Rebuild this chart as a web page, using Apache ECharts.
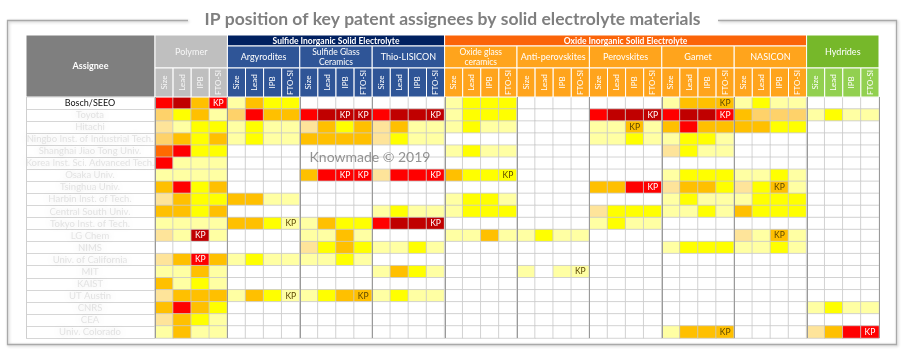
<!DOCTYPE html>
<html><head><meta charset="utf-8">
<script src="https://cdn.jsdelivr.net/npm/echarts@6.0.0/dist/echarts.min.js"></script>
<style>html,body{margin:0;padding:0;background:#fff}#c{width:905px;height:356px}</style>
</head><body><div id="c"></div>
<script>
// ---------------- DATA ----------------
const titleText = "IP position of key patent assignees by solid electrolyte materials";
const watermark = "Knowmade \u00A9 2019";
const assignees = ["Bosch/SEEO","Toyota","Hitachi","Ningbo Inst. of Industrial Tech.","Shanghai Jiao Tong Univ.",
  "Korea Inst. Sci. Advanced Tech.","Osaka Univ.","Tsinghua Univ.","Harbin Inst. of Tech.","Central South Univ.",
  "Tokyo Inst. of Tech.","LG Chem","NIMS","Univ. of California","MIT","KAIST","UT Austin","CNRS","CEA","Univ. Colorado"];
const subColumns = ["Size","Lead","IPB","FTO-SI"];
const families = ["Polymer","Argyrodites","Sulfide Glass\nCeramics","Thio-LISICON","Oxide glass\nceramics",
  "Anti-perovskites","Perovskites","Garnet","NASICON","Hydrides"];
const familyClass = ["polymer","sulfide","sulfide","sulfide","oxide","oxide","oxide","oxide","oxide","hydride"];
const classBands = [
  {name:"Sulfide Inorganic Solid Electrolyte", cls:"sulfide"},
  {name:"Oxide Inorganic Solid Electrolyte", cls:"oxide"}
];
// level: 0 none, 1 pale yellow, 2 pale tan, 3 yellow, 4 light orange, 5 orange, 6 dark orange, 7 red, 8 dark red
const levelColors = ["#ffffff","#ffffa3","#fee49a","#ffff00","#fed26a","#ffc000","#ff6a00","#ff0000","#c00000"];
const cellLevels = [
  [7,8,5,7, 1,5,3,3, 0,0,0,0, 0,0,0,0, 1,3,3,3, 0,0,0,0, 0,0,0,0, 1,5,5,5, 1,3,1,1, 0,0,0,0],
  [4,3,5,1, 4,7,5,5, 7,8,8,8, 7,8,8,8, 1,3,3,3, 0,0,0,0, 7,8,8,8, 7,8,8,7, 5,4,4,4, 1,3,1,1],
  [2,1,3,3, 1,3,1,1, 2,5,3,5, 2,5,1,1, 1,3,1,1, 0,0,0,0, 1,1,5,1, 5,7,5,5, 5,5,3,3, 0,0,0,0],
  [4,5,3,5, 1,3,1,1, 5,5,5,5, 2,3,1,1, 0,0,0,0, 0,0,0,0, 1,1,3,1, 1,3,3,1, 0,0,0,0, 0,0,0,0],
  [6,7,3,3, 0,0,0,0, 0,0,0,0, 0,0,0,0, 1,3,1,1, 0,0,0,0, 0,0,0,0, 2,3,1,1, 0,0,0,0, 0,0,0,0],
  [7,1,1,1, 0,0,0,0, 0,0,0,0, 0,0,0,0, 0,0,0,0, 0,0,0,0, 0,0,0,0, 0,0,0,0, 0,0,0,0, 0,0,0,0],
  [1,1,1,1, 0,0,0,0, 5,7,7,7, 2,7,7,7, 5,3,3,3, 0,0,0,0, 0,0,0,0, 1,3,3,3, 1,1,3,1, 0,0,0,0],
  [5,7,3,5, 0,0,0,0, 0,0,0,0, 0,0,0,0, 0,0,0,0, 0,0,0,0, 5,5,7,7, 2,5,5,3, 2,3,5,1, 0,0,0,0],
  [2,5,3,3, 5,5,1,1, 0,0,0,0, 0,0,0,0, 1,3,3,1, 0,0,0,0, 0,0,0,0, 1,3,1,1, 1,3,3,3, 0,0,0,0],
  [5,5,3,5, 0,0,0,0, 0,0,0,0, 1,3,1,1, 1,3,3,3, 0,0,0,0, 2,3,3,3, 1,1,3,1, 5,3,3,3, 0,0,0,0],
  [1,1,1,1, 5,5,3,1, 1,5,3,3, 7,8,8,8, 0,0,0,0, 0,0,0,0, 1,3,1,1, 0,0,0,0, 0,0,0,0, 0,0,0,0],
  [2,1,8,1, 0,0,0,0, 1,1,5,1, 0,0,0,0, 1,1,5,1, 1,3,1,1, 0,0,0,0, 0,0,0,0, 2,1,5,1, 0,0,0,0],
  [0,0,0,0, 0,0,0,0, 2,3,5,3, 1,1,3,1, 0,0,0,0, 0,0,0,0, 0,0,0,0, 1,3,3,3, 1,1,3,1, 0,0,0,0],
  [2,5,7,5, 1,3,1,1, 1,1,3,1, 0,0,0,0, 0,0,0,0, 0,0,0,0, 0,0,0,0, 0,0,0,0, 0,0,0,0, 0,0,0,0],
  [1,1,5,1, 0,0,0,0, 0,0,0,0, 1,5,3,1, 0,0,0,0, 1,0,1,1, 0,0,0,0, 0,0,0,0, 0,0,0,0, 0,0,0,0],
  [5,1,3,1, 0,0,0,0, 0,0,0,0, 0,0,0,0, 0,0,0,0, 0,0,0,0, 0,0,0,0, 0,0,0,0, 0,0,0,0, 0,0,0,0],
  [2,5,5,5, 1,5,3,1, 1,3,5,5, 1,3,1,1, 0,0,0,0, 0,0,0,0, 0,0,0,0, 0,0,0,0, 0,0,0,0, 0,0,0,0],
  [5,7,5,3, 0,0,0,0, 0,0,0,0, 0,0,0,0, 0,0,0,0, 0,0,0,0, 0,0,0,0, 0,0,0,0, 0,0,0,0, 1,3,1,1],
  [2,5,3,1, 0,0,0,0, 0,0,0,0, 0,0,0,0, 0,0,0,0, 0,0,0,0, 0,0,0,0, 0,0,0,0, 0,0,0,0, 0,0,0,0],
  [1,5,1,1, 0,0,0,0, 0,0,0,0, 0,0,0,0, 0,0,0,0, 0,0,0,0, 0,0,0,0, 1,5,5,5, 0,0,0,0, 2,5,7,7]
];
// key player cells: [column index, row index]
const kpCells = [[3,0],[31,0],[10,1],[11,1],[15,1],[27,1],[31,1],[26,2],[10,6],[11,6],[15,6],[19,6],
  [27,7],[34,7],[7,10],[15,10],[2,11],[34,11],[2,13],[23,14],[7,16],[11,16],[31,19],[39,19]];

// ---------------- STYLE ----------------
const FONT = "Lato, 'Open Sans', sans-serif";
const palette = {
  polymer: {band:"#bfbfbf", group:"#bfbfbf", sub:"#bfbfbf", text:"#f7f7f7"},
  sulfide: {band:"#002060", group:"#2f5597", sub:"#2f5597", text:"#ffffff"},
  oxide:   {band:"#fb6409", group:"#ffa41c", sub:"#ffa41c", text:"#ffffff"},
  hydride: {band:"#76b82a", group:"#76b82a", sub:"#92d050", text:"#ffffff"}
};
const columnIds = [];
families.forEach((f,i)=>subColumns.forEach(s=>columnIds.push(f.replace("\n"," ")+" | "+s)));
const kpSet = new Set(kpCells.map(c=>c[0]+","+c[1]));
const data = [];
cellLevels.forEach((row,r)=>row.forEach((lvl,c)=>{
  const kp = kpSet.has(c+","+r) ? 1 : 0;
  data.push({value:[c,r,lvl,kp], label:{color: lvl>=7 ? "#ffffff" : "#5a4500"}});
}));

const option = {
  animation:false,
  title:{text:titleText, left:"center", top:5,
    textStyle:{fontFamily:FONT, fontSize:17.5, fontWeight:"bold", color:"#7f7f7f"}},
  grid:{left:155, right:26, top:97, bottom:18, containLabel:false},
  xAxis:{type:"category", data:columnIds, position:"top",
    axisLine:{show:false}, axisTick:{show:false}, axisLabel:{show:false}, splitLine:{show:false}},
  yAxis:{type:"category", data:assignees, inverse:true,
    axisLine:{show:false},
    axisTick:{show:true, length:129, lineStyle:{color:"#d6d6d6", width:1}},
    axisLabel:{margin:65, align:"center", fontFamily:FONT, fontSize:9,
      formatter:(v,i)=> i===0 ? "{a|"+v+"}" : "{b|"+v+"}",
      rich:{
        a:{color:"#111", fontFamily:FONT, fontSize:9},
        b:{color:"rgba(140,140,140,0.22)", fontFamily:FONT, fontSize:9.5,
           textShadowColor:"rgba(120,120,120,1)", textShadowBlur:7}
      }},
    splitLine:{show:false}},
  visualMap:{type:"piecewise", show:false, dimension:2, seriesIndex:0,
    pieces: levelColors.map((c,i)=>({value:i, color:c}))},
  series:[{
    type:"heatmap", data:data,
    itemStyle:{borderColor:"#c9c9c9", borderWidth:0.8},
    label:{show:true, fontFamily:FONT, fontSize:8.5,
      formatter:p=> p.value[3] ? "KP" : ""},
    emphasis:{disabled:true}
  }]
};

const chart = echarts.init(document.getElementById("c"));
chart.setOption(option);

// ---------------- HEADER / FRAME (positioned from the axes) ----------------
const cx0 = chart.convertToPixel({xAxisIndex:0}, columnIds[0]);
const cx1 = chart.convertToPixel({xAxisIndex:0}, columnIds[1]);
const cw = cx1 - cx0, L = cx0 - cw/2;
const colX = k => L + k*cw;
const ry0 = chart.convertToPixel({yAxisIndex:0}, assignees[0]);
const ry1 = chart.convertToPixel({yAxisIndex:0}, assignees[1]);
const rh = ry1 - ry0, T = ry0 - rh/2, B = T + rh*assignees.length;
const H0 = 35, H1 = 46, H2 = 68, H3 = T, AL = 26;

const g = [];
function rect(x,y,w,h,fill,stroke,z){ g.push({type:"rect", shape:{x:x,y:y,width:w,height:h},
  style:{fill:fill, stroke:stroke||"#ffffff", lineWidth:1}, z:z||10, silent:true}); }
function text(x,y,t,opt){ g.push(Object.assign({type:"text", x:x, y:y, z:20, silent:true,
  style:Object.assign({text:t, fill:"#fff", font:"9px "+FONT, textAlign:"center", textVerticalAlign:"middle"}, opt.style||{})},
  opt.rotation!==undefined?{rotation:opt.rotation}:{})); }

// Assignee header
rect(AL, H0, L-AL, H3-H0, "#7f7f7f");
text((AL+L)/2, (H0+H3)/2, "Assignee", {style:{font:"bold 9px "+FONT}});
// class bands
classBands.forEach(b=>{
  const idx = familyClass.map((c,i)=>c===b.cls?i:-1).filter(i=>i>=0);
  const x = colX(idx[0]*4), x2 = colX((idx[idx.length-1]+1)*4);
  rect(x, H0, x2-x, H1-H0, palette[b.cls].band);
  text((x+x2)/2, (H0+H1)/2+0.5, b.name, {style:{font:"bold 8.5px "+FONT}});
});
// families
families.forEach((f,i)=>{
  const p = palette[familyClass[i]];
  const x = colX(i*4), w = cw*4;
  const single = (familyClass[i]==="polymer"||familyClass[i]==="hydride");
  const y = single ? H0 : H1;
  rect(x, y, w, H2-y, p.group);
  const lines = f.split("\n");
  const fs = lines.length>1 ? 8.5 : 9;
  text(x+w/2, (y+H2)/2+0.5, f, {style:{font:fs+"px "+FONT, fill:p.text, lineHeight:10}});
  subColumns.forEach((s,j)=>{
    const sx = colX(i*4+j);
    rect(sx, H2, cw, H3-H2, p.sub);
    text(sx+cw/2, (H2+H3)/2, s, {rotation:Math.PI/2, style:{font:"8px "+FONT, fill:p.text}});
  });
});
// group separators in table body
for (let k=0;k<=families.length;k++){
  const x = Math.round(colX(k*4))+0.5;
  g.push({type:"line", shape:{x1:x,y1:T,x2:x,y2:B}, style:{stroke:"#9a9a9a", lineWidth:1}, z:15, silent:true});
}
g.push({type:"line", shape:{x1:AL+0.5,y1:T,x2:AL+0.5,y2:B}, style:{stroke:"#cfcfcf", lineWidth:1}, z:15, silent:true});
// watermark
text(370, 157, watermark, {style:{font:"14px "+FONT, fill:"rgba(120,120,120,0.8)"}});
// frame around the chart
g.push({type:"polyline", shape:{points:[[188,20.5],[7.5,20.5],[7.5,344.5],[896.5,344.5],[896.5,20.5],[718,20.5]]},
  style:{stroke:"#a9a9a9", lineWidth:1.3, fill:null, shadowColor:"rgba(0,0,0,0.25)", shadowBlur:3, shadowOffsetX:1, shadowOffsetY:1}, z:5, silent:true});

chart.setOption({graphic:g});
</script>
</body></html>
